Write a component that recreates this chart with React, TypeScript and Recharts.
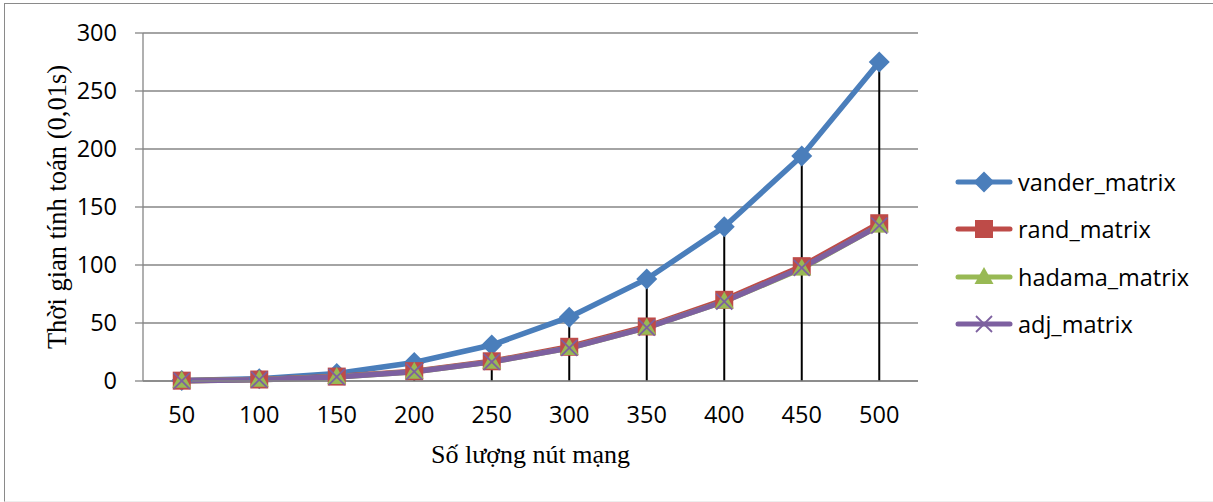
import React from 'react';
import {
  ComposedChart,
  Line,
  XAxis,
  YAxis,
  CartesianGrid,
  ErrorBar,
  Legend,
} from 'recharts';

// Số lượng nút mạng vs. thời gian tính toán (đơn vị 0,01s)
const nodes = [50, 100, 150, 200, 250, 300, 350, 400, 450, 500];
const vanderMatrix = [0.5, 2, 6.5, 16, 31, 55, 88, 133, 194, 275];
const randMatrix = [0.3, 1.3, 3.8, 8.5, 17, 29.5, 47, 70, 99, 136];
const hadamaMatrix = [0.2, 1.1, 3.5, 8, 16.5, 28.5, 46, 68.5, 97, 134];
const adjMatrix = [0.2, 1.1, 3.5, 8, 16.5, 28.5, 46, 68.5, 97.5, 134];
const yTicks = [0, 50, 100, 150, 200, 250, 300];

const SERIES = [
  { key: 'vander_matrix', color: '#4A7EBB', marker: 'diamond' },
  { key: 'rand_matrix', color: '#BE4B48', marker: 'square' },
  { key: 'hadama_matrix', color: '#98B954', marker: 'triangle' },
  { key: 'adj_matrix', color: '#7D60A0', marker: 'cross' },
];

const data = nodes.map((n, i) => ({
  n,
  vander_matrix: vanderMatrix[i],
  rand_matrix: randMatrix[i],
  hadama_matrix: hadamaMatrix[i],
  adj_matrix: adjMatrix[i],
}));

const TICK_FONT = '"Open Sans", sans-serif';
const TITLE_FONT = '"Liberation Serif", "Times New Roman", serif';
const GRID = '#868686';

function Marker({ type, cx, cy, color }: { type: string; cx: number; cy: number; color: string }) {
  if (cx == null || cy == null) return null;
  switch (type) {
    case 'diamond':
      return (
        <polygon
          points={`${cx},${cy - 10.5} ${cx + 10.5},${cy} ${cx},${cy + 10.5} ${cx - 10.5},${cy}`}
          fill={color}
        />
      );
    case 'square':
      return <rect x={cx - 9} y={cy - 9} width={18} height={18} fill={color} />;
    case 'triangle':
      return (
        <polygon
          points={`${cx},${cy - 10} ${cx + 9.5},${cy + 7} ${cx - 9.5},${cy + 7}`}
          fill={color}
        />
      );
    case 'cross':
      return (
        <g stroke={color} strokeWidth={1.8}>
          <line x1={cx - 8} y1={cy - 8} x2={cx + 8} y2={cy + 8} />
          <line x1={cx - 8} y1={cy + 8} x2={cx + 8} y2={cy - 8} />
        </g>
      );
    default:
      return null;
  }
}

function LegendBox() {
  return (
    <div style={{ fontFamily: TICK_FONT, fontSize: 23.5, color: '#000' }}>
      {SERIES.map((s) => (
        <div key={s.key} style={{ display: 'flex', alignItems: 'center', height: 47.5 }}>
          <svg width={58} height={26} style={{ marginRight: 5 }}>
            <line x1={3} y1={13} x2={55} y2={13} stroke={s.color} strokeWidth={5} strokeLinecap="round" />
            <Marker type={s.marker} cx={29} cy={13} color={s.color} />
          </svg>
          <span>{s.key}</span>
        </div>
      ))}
    </div>
  );
}

export default function App() {
  return (
    <div style={{ position: 'absolute', left: 0, top: 0, width: 1213, height: 502, background: '#fff', overflow: 'hidden' }}>
      <div
        style={{
          position: 'absolute',
          left: 4,
          top: 3,
          width: 1220,
          height: 497,
          borderLeft: '1.5px solid #8a8a8a',
          borderTop: '1.5px solid #8a8a8a',
          borderBottom: '1px solid #eeeeee',
        }}
      />
      <ComposedChart
        width={1213}
        height={502}
        data={data}
        margin={{ top: 33, right: 295, bottom: 0, left: 0 }}
        style={{ position: 'absolute', left: 0, top: 0 }}
      >
        <CartesianGrid vertical={false} stroke={GRID} strokeWidth={1.3} />
        <XAxis
          dataKey="n"
          scale="band"
          height={121}
          axisLine={{ stroke: GRID, strokeWidth: 1.3 }}
          tickLine={false}
          tickSize={0}
          tickMargin={25}
          tick={{ fontFamily: TICK_FONT, fontSize: 23.5, fill: '#000' }}
          label={{
            content: ({ viewBox }: any) => (
              <text
                x={viewBox.x + viewBox.width / 2}
                y={viewBox.y + 82}
                textAnchor="middle"
                fontFamily={TITLE_FONT}
                fontSize={26}
                fill="#000"
              >
                Số lượng nút mạng
              </text>
            ),
          }}
        />
        <YAxis
          width={143}
          domain={[0, 300]}
          ticks={yTicks}
          interval={0}
          axisLine={{ stroke: GRID, strokeWidth: 1.3 }}
          tickLine={{ stroke: GRID, strokeWidth: 1.3 }}
          tickSize={8}
          tickMargin={18}
          tick={{ fontFamily: TICK_FONT, fontSize: 23.5, fill: '#000' }}
          label={{
            content: ({ viewBox }: any) => {
              const x = 57;
              const y = viewBox.y + viewBox.height / 2;
              return (
                <text
                  x={x}
                  y={y}
                  transform={`rotate(-90 ${x} ${y})`}
                  textAnchor="middle"
                  dominantBaseline="central"
                  fontFamily={TITLE_FONT}
                  fontSize={26.5}
                  fill="#000"
                >
                  Thời gian tính toán (0,01s)
                </text>
              );
            },
          }}
        />
        {SERIES.map((s) => (
          <Line
            key={s.key}
            type="linear"
            dataKey={s.key}
            stroke={s.color}
            strokeWidth={5.5}
            isAnimationActive={false}
            dot={(p: any) => <Marker key={`${s.key}-${p.index}`} type={s.marker} cx={p.cx} cy={p.cy} color={s.color} />}
            activeDot={false}
          />
        ))}
        {/* drop lines: from each vander point to the category axis */}
        <Line
          dataKey="vander_matrix"
          stroke="none"
          dot={false}
          activeDot={false}
          legendType="none"
          isAnimationActive={false}
        >
          <ErrorBar
            dataKey={(d: any) => [d.vander_matrix, 0]}
            width={0}
            stroke="#000"
            strokeWidth={2}
            direction="y"
            isAnimationActive={false}
          />
        </Line>
        <Legend
          layout="horizontal"
          verticalAlign="middle"
          align="center"
          wrapperStyle={{ left: 955, top: 158, width: 258 }}
          content={() => <LegendBox />}
        />
      </ComposedChart>
    </div>
  );
}
